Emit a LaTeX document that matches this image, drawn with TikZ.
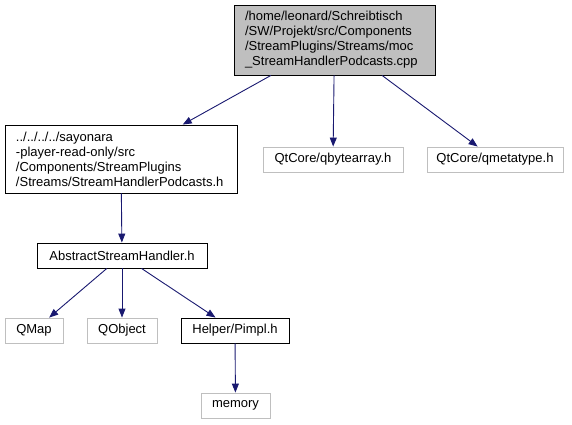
\documentclass[tikz,border=0pt]{standalone}
\usepackage{fontspec}
\setmainfont{Liberation Sans}
\usepackage{tikz}
\usetikzlibrary{arrows.meta}
\definecolor{edge}{HTML}{191970}
\definecolor{grey}{HTML}{BFBFBF}
\tikzset{inc/.style={-{Triangle[length=9pt,width=7pt]},line width=0.9pt,draw=edge},
  file/.style={draw=black,fill=white,line width=0.9pt,inner sep=0pt,minimum height=25pt,font=\fontsize{13}{15}\selectfont},
  extfile/.style={file,draw=grey},
  multi/.style={file,align=left,inner xsep=11pt,inner ysep=0pt}}

\begin{document}
\begin{tikzpicture}[x=1pt,y=-1pt]
\useasboundingbox (0,0) rectangle (572,424);
\node[multi,fill=grey,text width=179pt,minimum height=70pt] (moc) at (334.5,40) {/home/leonard/Schreibtisch\\/SW/Projekt/src/Components\\/StreamPlugins/Streams/moc\\\_StreamHandlerPodcasts.cpp};
\node[multi,text width=210pt,minimum height=68pt] (podcasts) at (121,159) {../../../../sayonara\\-player-read-only/src\\/Components/StreamPlugins\\/Streams/StreamHandlerPodcasts.h};
\node[extfile,minimum width=140pt] (bytearray) at (333,159.5) {QtCore/qbytearray.h};
\node[extfile,minimum width=136pt] (metatype) at (495,159.5) {QtCore/qmetatype.h};
\node[file,minimum width=170pt] (abstract) at (122,255.5) {AbstractStreamHandler.h};
\node[extfile,minimum width=58pt] (qmap) at (34,330.5) {QMap};
\node[extfile,minimum width=70pt] (qobject) at (122,330.5) {QObject};
\node[file,minimum width=108pt] (pimpl) at (235,330.5) {Helper/Pimpl.h};
\node[extfile,minimum width=69pt] (memory) at (235.5,405.5) {memory};
% include edges
\draw[inc] (moc) -- (podcasts);
\draw[inc] (moc) -- (bytearray);
\draw[inc] (moc) -- (metatype);
\draw[inc] (podcasts) -- (abstract);
\draw[inc] (abstract) -- (qmap);
\draw[inc] (abstract) -- (qobject);
\draw[inc] (abstract) -- (pimpl);
\draw[inc] (pimpl) -- (memory);
\end{tikzpicture}
\end{document}
